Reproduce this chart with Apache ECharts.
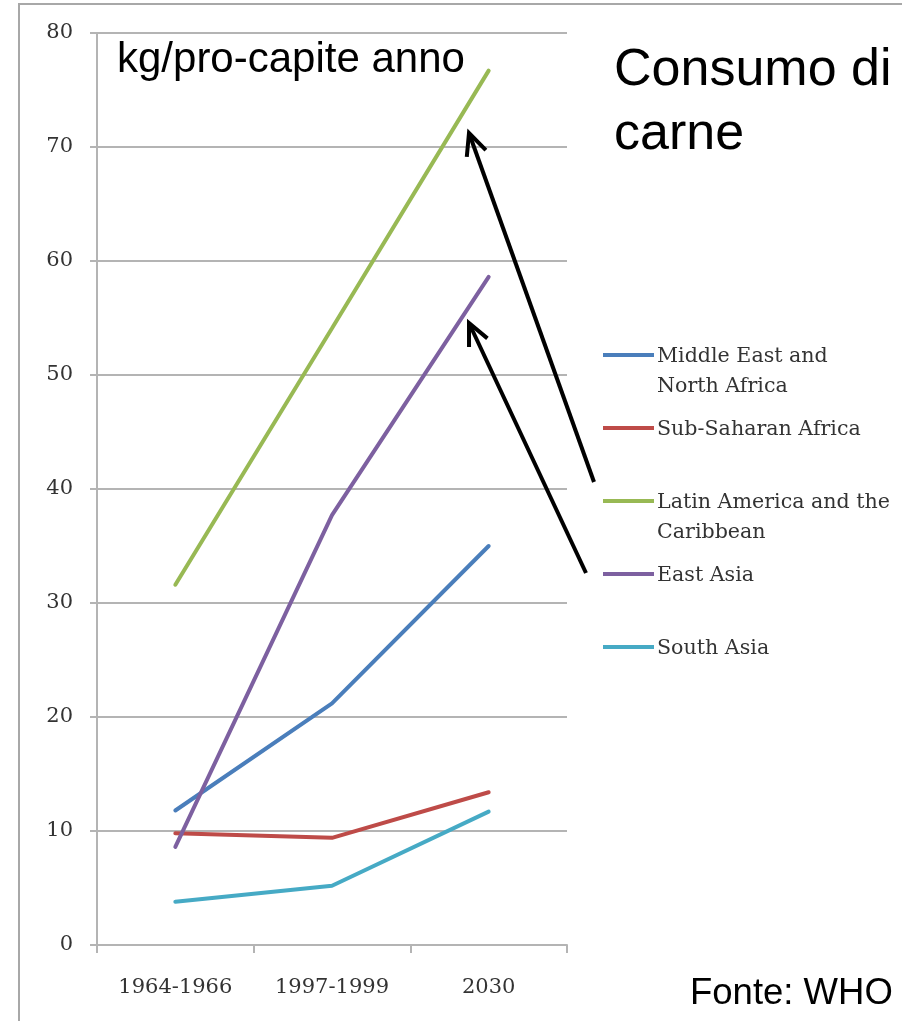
<!DOCTYPE html>
<html>
<head>
<meta charset="utf-8">
<title>Consumo di carne</title>
<script src="https://cdn.jsdelivr.net/npm/echarts@6/dist/echarts.min.js"></script>
<style>
  html, body { margin: 0; padding: 0; background: #ffffff; }
  #chart { width: 902px; height: 1021px; }
</style>
</head>
<body>
<div id="chart"></div>
<script>
// Periods on the x axis
const categories = ['1964-1966', '1997-1999', '2030'];

// Meat consumption, kg per capita per year
const middleEastNorthAfrica = [11.8, 21.2, 35.0];
const subSaharanAfrica = [9.8, 9.4, 13.4];
const latinAmericaCaribbean = [31.6, 54.1, 76.7];
const eastAsia = [8.6, 37.7, 58.6];
const southAsia = [3.8, 5.2, 11.7];

const seriesNames = [
  'Middle East and\nNorth Africa',
  'Sub-Saharan Africa',
  'Latin America and the\nCaribbean',
  'East Asia',
  'South Asia'
];
const seriesValues = [middleEastNorthAfrica, subSaharanAfrica, latinAmericaCaribbean, eastAsia, southAsia];
const seriesColors = ['#4a7ebb', '#be4b48', '#98b954', '#7d60a0', '#46aac5'];

const yTicks = { min: 0, max: 80, interval: 10 };

const serif = '"DejaVu Serif", "Liberation Serif", serif';
const sans = '"Liberation Sans", Arial, sans-serif';
const gridColor = '#b4b4b4';
const labelColor = '#333333';

// Black annotation arrow: a shaft plus a two-winged head at the tip
function arrow(x1, y1, x2, y2) {
  const ang = Math.atan2(y1 - y2, x1 - x2);
  const len = 24, spread = 25 * Math.PI / 180;
  const w1 = [x2 + len * Math.cos(ang + spread), y2 + len * Math.sin(ang + spread)];
  const w2 = [x2 + len * Math.cos(ang - spread), y2 + len * Math.sin(ang - spread)];
  const st = { stroke: '#000', lineWidth: 4, lineCap: 'butt', lineJoin: 'miter', fill: null };
  return [
    { type: 'line', shape: { x1: x1, y1: y1, x2: x2, y2: y2 }, style: st, z: 100 },
    { type: 'polyline', shape: { points: [w1, [x2, y2], w2] }, style: st, z: 100 }
  ];
}

// Legend on the right, one row every 73px
const legendTop = 355, legendStep = 73;
const legendItems = [];
seriesNames.forEach(function (name, i) {
  const y = legendTop + i * legendStep;
  legendItems.push({
    type: 'line',
    shape: { x1: 603, y1: y, x2: 654, y2: y },
    style: { stroke: seriesColors[i], lineWidth: 4 }
  });
  legendItems.push({
    type: 'text',
    x: 657, y: y - 13,
    style: {
      text: name, font: '20.6px ' + serif, fill: labelColor,
      lineHeight: 30, verticalAlign: 'top', align: 'left'
    }
  });
});

const chart = echarts.init(document.getElementById('chart'), null, { renderer: 'canvas' });

chart.setOption({
  backgroundColor: '#ffffff',
  animation: false,
  grid: { left: 97, right: 335, top: 33, bottom: 76, containLabel: false },
  xAxis: {
    type: 'category',
    data: categories,
    boundaryGap: true,
    axisLine: { show: true, lineStyle: { color: gridColor, width: 2 } },
    axisTick: { show: true, length: 8, lineStyle: { color: gridColor, width: 2 } },
    axisLabel: { fontFamily: serif, fontSize: 21, color: labelColor, margin: 32 },
    splitLine: { show: false }
  },
  yAxis: {
    type: 'value',
    min: yTicks.min, max: yTicks.max, interval: yTicks.interval,
    axisLine: { show: true, lineStyle: { color: gridColor, width: 2 } },
    axisTick: { show: true, length: 7, lineStyle: { color: gridColor, width: 2 } },
    axisLabel: { fontFamily: serif, fontSize: 21, color: labelColor, margin: 24 },
    splitLine: { show: true, lineStyle: { color: gridColor, width: 2 } }
  },
  series: seriesNames.map(function (name, i) {
    return {
      name: name,
      type: 'line',
      data: seriesValues[i],
      showSymbol: false,
      symbol: 'none',
      lineStyle: { color: seriesColors[i], width: 4, cap: 'round' },
      itemStyle: { color: seriesColors[i] },
      z: 3
    };
  }),
  graphic: [
    // outer frame
    { type: 'rect', shape: { x: 19, y: 4, width: 1000, height: 1100 },
      style: { stroke: '#a8a8a8', lineWidth: 2, fill: null }, z: 0 },
    { type: 'text', x: 117, y: 60,
      style: { text: 'kg/pro-capite anno', font: '42px ' + sans, fill: '#000', verticalAlign: 'middle' }, z: 50 },
    { type: 'text', x: 614, y: 71,
      style: { text: 'Consumo di', font: '52px ' + sans, fill: '#000', verticalAlign: 'middle' }, z: 50 },
    { type: 'text', x: 614, y: 135,
      style: { text: 'carne', font: '52px ' + sans, fill: '#000', verticalAlign: 'middle' }, z: 50 },
    { type: 'text', x: 690, y: 994,
      style: { text: 'Fonte: WHO', font: '36.5px ' + sans, fill: '#000', verticalAlign: 'middle' }, z: 50 }
  ]
    .concat(legendItems)
    .concat(arrow(594, 482, 469, 133))
    .concat(arrow(586, 573, 469, 323))
});
</script>
</body>
</html>
